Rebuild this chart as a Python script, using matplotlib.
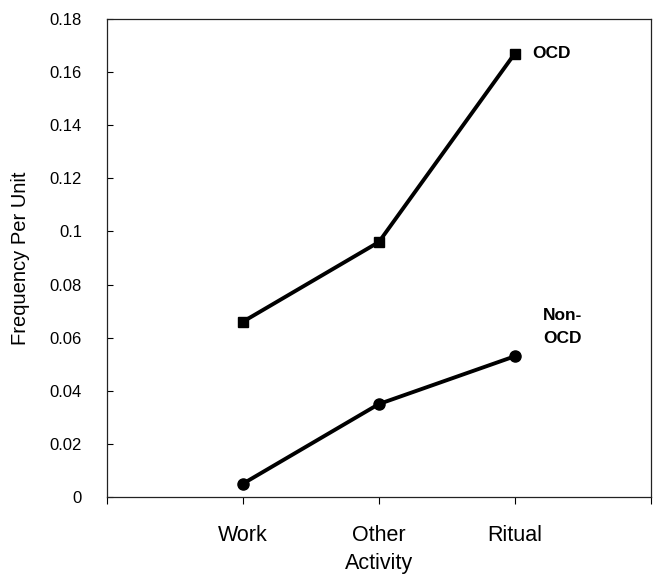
import numpy as np
import matplotlib
matplotlib.use('Agg')
import matplotlib.pyplot as plt

plt.rcParams['font.family'] = ['Liberation Sans', 'DejaVu Sans']

activities = ['Work', 'Other', 'Ritual']
ocd = [0.066, 0.096, 0.167]
non_ocd = [0.005, 0.035, 0.053]

x = np.arange(1, len(activities) + 1)

fig = plt.figure(figsize=(6.56, 5.79), dpi=100)
ax = fig.add_axes([0.163, 0.1416, 0.829, 0.8256])

ax.plot(x, ocd, color='black', lw=2.8, marker='s', ms=7)
ax.plot(x, non_ocd, color='black', lw=2.8, marker='o', ms=8)

ax.text(3.13, ocd[-1], 'OCD', fontsize=12.5, fontweight='bold', va='center', ha='left')
ax.text(3.21, 0.064, 'Non-\nOCD', fontsize=12.5, fontweight='bold', va='center', ha='left',
        linespacing=1.7)

ax.set_xlim(0, 4)
ax.set_ylim(0, 0.18)
ax.set_xticks([0, 1, 2, 3, 4])
ax.set_xticklabels([''] + activities + [''], fontsize=15.5)
ax.set_yticks(np.arange(0, 0.181, 0.02))
ax.set_yticklabels(['0', '0.02', '0.04', '0.06', '0.08', '0.1', '0.12', '0.14', '0.16', '0.18'],
                   fontsize=12)
ax.tick_params(axis='x', direction='out', length=5, width=0.8, pad=15)
ax.tick_params(axis='y', direction='in', length=4, width=0.8, pad=18)

ax.set_xlabel('Activity', fontsize=15.5)
ax.set_ylabel('Frequency Per Unit', fontsize=14.5)
ax.xaxis.set_label_coords(0.5, -0.118)
ax.yaxis.set_label_coords(-0.142, 0.5)

for s in ax.spines.values():
    s.set_linewidth(0.9)
    s.set_color('#222222')

fig.savefig('out.png', dpi=100)
